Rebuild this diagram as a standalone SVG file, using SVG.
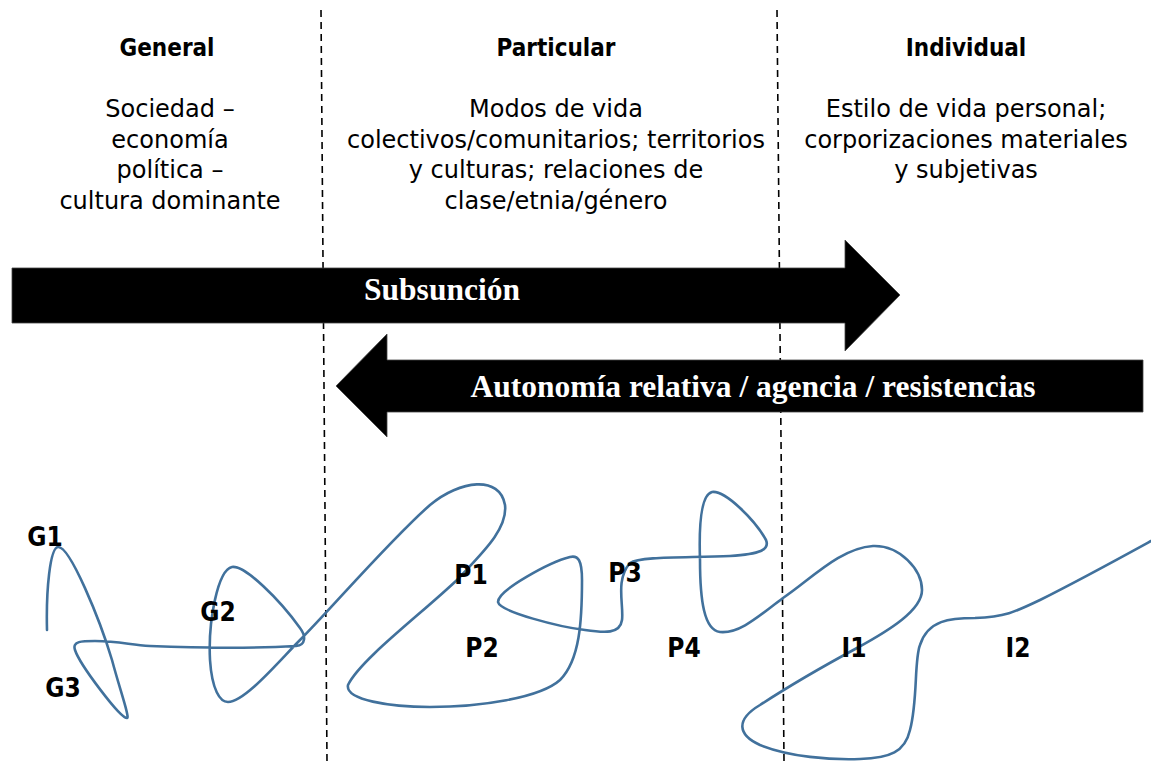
<svg xmlns="http://www.w3.org/2000/svg" width="1151" height="761" viewBox="0 0 1151 761">
<style>
.hd{font-family:"DejaVu Sans Condensed","DejaVu Sans",sans-serif;font-weight:bold;font-size:24px;fill:#000;text-anchor:middle}
.bd{font-family:"DejaVu Sans",Verdana,sans-serif;font-size:24px;fill:#000;text-anchor:middle}
.lb{font-family:"DejaVu Sans Condensed","DejaVu Sans",sans-serif;font-weight:bold;font-size:26px;fill:#000;text-anchor:middle}
.ar{font-family:"Liberation Serif","Times New Roman",serif;font-weight:bold;font-size:31.5px;fill:#fff;text-anchor:middle}
.dash{stroke:#000;stroke-width:1.6;stroke-dasharray:7 5;fill:none}
.big{fill:#000;stroke:#444;stroke-width:0.8}
.curve{fill:none;stroke:#41719c;stroke-width:2.6;stroke-linecap:round;stroke-linejoin:round}
</style>
<rect width="1151" height="761" fill="#fff"/>
<g id="dividers">
<line class="dash" x1="321" y1="10" x2="327" y2="761"/>
<line class="dash" x1="777" y1="10" x2="784" y2="761"/>
</g>
<g id="col-general">
<text class="hd" x="167" y="56">General</text>
<text class="bd" x="170" y="117">Sociedad –</text>
<text class="bd" x="170" y="148">economía</text>
<text class="bd" x="170" y="178">política –</text>
<text class="bd" x="170" y="209">cultura dominante</text>
</g>
<g id="col-particular">
<text class="hd" x="556" y="56">Particular</text>
<text class="bd" x="556" y="117">Modos de vida</text>
<text class="bd" x="556" y="148">colectivos/comunitarios; territorios</text>
<text class="bd" x="556" y="178">y culturas; relaciones de</text>
<text class="bd" x="556" y="209">clase/etnia/género</text>
</g>
<g id="col-individual">
<text class="hd" x="966" y="56">Individual</text>
<text class="bd" x="966" y="117">Estilo de vida personal;</text>
<text class="bd" x="966" y="148">corporizaciones materiales</text>
<text class="bd" x="966" y="178">y subjetivas</text>
</g>
<g id="arrow-subsuncion">
<polygon class="big" points="12,268 845,268 845,240 900,295 845,351 845,323 12,323"/>
<text class="ar" x="442" y="300">Subsunción</text>
</g>
<g id="arrow-autonomia">
<polygon class="big" points="1143,360 387,360 387,334 336,386 387,437 387,412 1143,412"/>
<text class="ar" x="753" y="397">Autonomía relativa / agencia / resistencias</text>
</g>
<g id="connectors">
<path class="curve" d="M 47 630 C 46 590, 50 548, 58 547 C 70 546, 100 620, 112 660 C 120 690, 130 718, 127 718 C 120 718, 80 665, 75 650 C 72 641, 82 641, 95 641 C 120 641, 130 645, 150 646 C 200 648, 260 648, 296 646 C 306 645, 306 636, 300 628 C 280 600, 245 565, 232 567 C 218 570, 208 620, 210 660 C 212 690, 220 702, 228 702 C 245 702, 280 660, 300 640 C 330 610, 390 540, 430 505 C 460 480, 500 475, 505 505 C 508 530, 480 555, 457 580 C 420 615, 360 660, 348 685 C 345 700, 390 707, 430 707 C 480 707, 540 698, 560 680 C 580 660, 582 620, 582 580 C 582 560, 578 555, 570 557 C 550 562, 498 590, 498 602 C 500 612, 560 627, 585 630 C 605 633, 620 634, 622 620 C 624 605, 615 580, 630 563 C 640 556, 690 558, 730 556 C 760 554, 770 550, 766 540 C 755 520, 725 490, 712 492 C 700 495, 699 530, 700 560 C 700 600, 704 630, 720 632 C 740 634, 760 615, 783 598 C 810 580, 840 548, 873 546 C 900 545, 922 570, 922 590 C 922 610, 890 630, 857 648 C 820 668, 783 690, 760 705 C 735 720, 738 735, 760 745 C 790 757, 830 760, 860 759 C 890 758, 905 752, 910 730 C 918 700, 914 660, 920 645 C 928 620, 950 618, 975 618 C 1005 617, 1015 612, 1040 600 C 1080 580, 1120 558, 1151 541"/>
</g>
<g id="labels">
<text class="lb" x="45" y="546">G1</text>
<text class="lb" x="218" y="621">G2</text>
<text class="lb" x="63" y="697">G3</text>
<text class="lb" x="471" y="584">P1</text>
<text class="lb" x="625" y="582">P3</text>
<text class="lb" x="482" y="657">P2</text>
<text class="lb" x="684" y="657">P4</text>
<text class="lb" x="854" y="657">I1</text>
<text class="lb" x="1018" y="657">I2</text>
</g>
</svg>
